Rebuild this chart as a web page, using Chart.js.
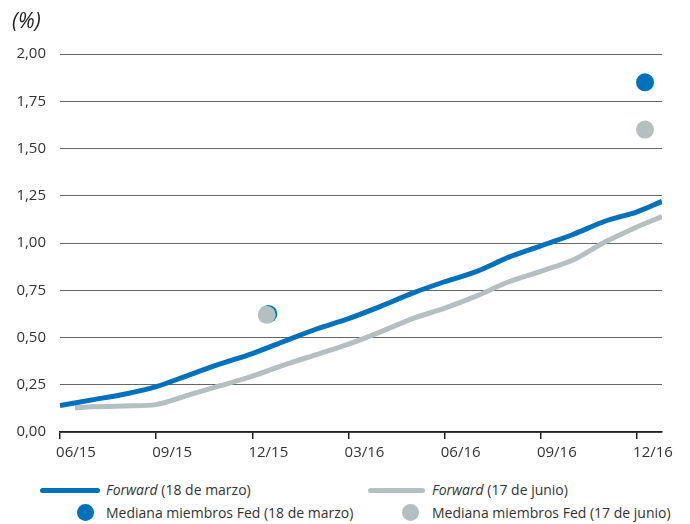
<!DOCTYPE html>
<html>
<head>
<meta charset="utf-8">
<script src="https://cdn.jsdelivr.net/npm/chart.js@4/dist/chart.umd.min.js"></script>
<style>
  body { margin: 0; background: #fff; font-family: "Open Sans", sans-serif; color: #333; }
  #wrap { position: relative; width: 690px; height: 524px; }
  #grafico { position: absolute; left: 0; top: 0; }
  .unidad { position: absolute; left: 12px; top: 6px; font-size: 21px; font-style: italic; color: #222; }
  .leyenda { position: absolute; font-size: 14px; color: #333; white-space: nowrap; }
  .linea { position: absolute; height: 5px; border-radius: 3px; }
  .punto { position: absolute; width: 17px; height: 17px; border-radius: 50%; }
</style>
</head>
<body>
<div id="wrap">
  <canvas id="grafico" width="690" height="467"></canvas>
  <div class="unidad">(%)</div>

  <div class="linea" style="left:40px; top:488px; width:60px; background:#0071bc;"></div>
  <div class="leyenda" style="left:106px; top:480px;"><i>Forward</i> (18 de marzo)</div>
  <div class="linea" style="left:368px; top:488px; width:57px; background:#b4bfc1;"></div>
  <div class="leyenda" style="left:432px; top:480px;"><i>Forward</i> (17 de junio)</div>

  <div class="punto" style="left:77px; top:504px; background:#0071bc;"></div>
  <div class="leyenda" style="left:106px; top:503px;">Mediana miembros Fed (18 de marzo)</div>
  <div class="punto" style="left:402px; top:504px; background:#b4bfc1;"></div>
  <div class="leyenda" style="left:432px; top:503px;">Mediana miembros Fed (17 de junio)</div>
</div>

<script>
// meses transcurridos desde 06/15
const etiquetasX = ['06/15', '09/15', '12/15', '03/16', '06/16', '09/16', '12/16'];
const mesesForward = [0, 1, 2, 3, 4, 5, 6, 7, 8, 9, 10, 11, 12, 13, 14, 15, 16, 17, 18, 18.78];
const forwardMarzo = [0.14, 0.17, 0.20, 0.24, 0.30, 0.36, 0.415, 0.48, 0.545, 0.60, 0.665, 0.735, 0.795, 0.85, 0.925, 0.985, 1.045, 1.115, 1.165, 1.22];
const mesesJunio = [0.47, 1, 2, 3, 4, 5, 6, 7, 8, 9, 10, 11, 12, 13, 14, 15, 16, 17, 18, 18.78];
const forwardJunio = [0.128, 0.133, 0.138, 0.145, 0.195, 0.245, 0.295, 0.355, 0.41, 0.465, 0.53, 0.60, 0.655, 0.72, 0.795, 0.85, 0.91, 1.005, 1.085, 1.14];
const mesesFed = [6.45, 18.25];
const medianaMarzo = [0.625, 1.85];
const medianaJunio = [0.62, 1.60];

const azul = '#0071bc';
const gris = '#b4bfc1';

function puntos(xs, ys) {
    return xs.map(function (x, i) { return { x: x, y: ys[i] }; });
}

new Chart(document.getElementById('grafico'), {
    type: 'scatter',
    data: {
        datasets: [
            {
                label: 'Mediana miembros Fed (18 de marzo)',
                data: puntos([mesesFed[0] + 0.05, mesesFed[1]], medianaMarzo),
                backgroundColor: azul,
                borderWidth: 0,
                pointRadius: 9,
                order: 2
            },
            {
                label: 'Mediana miembros Fed (17 de junio)',
                data: puntos(mesesFed, medianaJunio),
                backgroundColor: gris,
                borderWidth: 0,
                pointRadius: 9,
                order: 1
            },
            {
                label: 'Forward (17 de junio)',
                type: 'line',
                data: puntos(mesesJunio, forwardJunio),
                borderColor: gris,
                borderWidth: 5,
                pointRadius: 0,
                tension: 0.3,
                order: 4
            },
            {
                label: 'Forward (18 de marzo)',
                type: 'line',
                data: puntos(mesesForward, forwardMarzo),
                borderColor: azul,
                borderWidth: 5,
                pointRadius: 0,
                tension: 0.3,
                order: 3
            }
        ]
    },
    options: {
        responsive: false,
        animation: false,
        layout: { padding: { top: 54, right: 28, left: 0, bottom: 0 } },
        plugins: {
            legend: { display: false },
            tooltip: { enabled: false }
        },
        scales: {
            y: {
                min: 0,
                max: 2,
                afterFit: function (scale) { scale.width = 60; },
                ticks: {
                    stepSize: 0.25,
                    color: '#333',
                    padding: 14,
                    font: { family: 'Open Sans', size: 15 },
                    callback: function (v) { return v.toFixed(2).replace('.', ','); }
                },
                grid: { color: '#666', lineWidth: 1, drawTicks: false },
                border: { display: false }
            },
            x: {
                type: 'linear',
                min: 0,
                max: 18.78,
                afterBuildTicks: function (scale) {
                    scale.ticks = etiquetasX.map(function (e, i) { return { value: i * 3 }; });
                },
                ticks: {
                    color: '#333',
                    padding: 5,
                    labelOffset: 16,
                    font: { family: 'Open Sans', size: 15 },
                    callback: function (v) { return etiquetasX[Math.round(v / 3)]; }
                },
                grid: { drawOnChartArea: false, color: '#222', tickLength: 7, lineWidth: 1.5 },
                border: { display: true, color: '#222', width: 1.5 }
            }
        }
    }
});
</script>
</body>
</html>
